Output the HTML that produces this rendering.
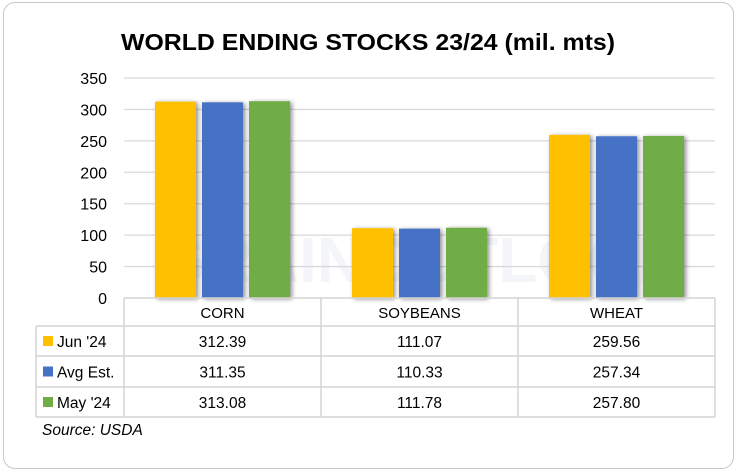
<!DOCTYPE html>
<html><head><meta charset="utf-8"><style>
body{margin:0;background:#fff;width:739px;height:473px;overflow:hidden;font-family:"Liberation Sans",Calibri,sans-serif}
#frame{position:absolute;left:3px;top:2px;width:731px;height:467px;border:1.5px solid #c8c8c8;border-radius:12px;box-sizing:border-box}
svg{position:absolute;left:0;top:0}
</style></head><body>
<div id="frame"></div>
<svg id="c" width="739" height="473"></svg>
<script>
const categories=["CORN","SOYBEANS","WHEAT"];
const seriesNames=["Jun '24","Avg Est.","May '24"];
const jun=[312.39,111.07,259.56];
const avg=[311.35,110.33,257.34];
const may=[313.08,111.78,257.80];
const ticks=[0,50,100,150,200,250,300,350];
const labels=[["312.39","111.07","259.56"],["311.35","110.33","257.34"],["313.08","111.78","257.80"]];
const colors=["#ffc000","#4472c4","#70ad47"];
const series=[jun,avg,may];
const NS="http://www.w3.org/2000/svg";
const svg=document.getElementById('c');
const X0=124,X1=715,Y0=298,Y350=78;
const y=v=>Y0-(v/350)*(Y0-Y350);
const cw=(X1-X0)/categories.length;
const x=i=>X0+cw*i;
function mk(t,a,txt){const e=document.createElementNS(NS,t);for(const k in a)e.setAttribute(k,a[k]);if(txt!==undefined)e.textContent=txt;svg.appendChild(e);return e;}
const defs=mk('defs',{});
defs.innerHTML='<filter id="sh" x="-30%" y="-10%" width="160%" height="130%"><feGaussianBlur in="SourceAlpha" stdDeviation="2.5"/><feOffset dx="2" dy="1"/><feComponentTransfer><feFuncA type="linear" slope="0.45"/></feComponentTransfer><feMerge><feMergeNode/><feMergeNode in="SourceGraphic"/></feMerge></filter>';
let t=mk('text',{x:121,y:50,'font-size':23,'font-weight':'bold',fill:'#000',textLength:494,lengthAdjust:'spacingAndGlyphs'},'WORLD ENDING STOCKS 23/24 (mil. mts)');

let wm=mk('text',{x:420,y:282,'text-anchor':'middle','font-size':64,'font-weight':'bold',fill:'#f3f5f9'},'GRAINOUTLOOK');

ticks.forEach(v=>{
  if(v>0){let g=mk('line',{x1:X0,x2:X1,y1:y(v),y2:y(v),stroke:'#d9d9d9','stroke-width':1.3});
  }
  let l=mk('text',{x:107,y:y(v)+6,'text-anchor':'end','font-size':16,fill:'#000'},String(v));
  
});
const bw=41,gap=6;
series.forEach((s,si)=>{
  s.forEach((v,ci)=>{
    const cx=x(ci)+cw/2;
    const bx=cx-(bw*3+gap*2)/2+si*(bw+gap);
    let r=mk('rect',{x:bx,y:y(v),width:bw,height:Y0-y(v),fill:colors[si],filter:'url(#sh)'});
    
    
  });
});
const L=36,rows=[298,326,356,387,417];
const st='#d4d4d4';
mk('line',{x1:X0,x2:X1,y1:rows[0],y2:rows[0],stroke:st,'stroke-width':1.5});
for(let i=1;i<rows.length;i++)mk('line',{x1:L,x2:X1,y1:rows[i],y2:rows[i],stroke:st,'stroke-width':1.5});
mk('line',{x1:L,x2:L,y1:rows[1],y2:rows[4],stroke:st,'stroke-width':1.5});
for(let i=0;i<=3;i++)mk('line',{x1:x(i),x2:x(i),y1:rows[0],y2:rows[4],stroke:st,'stroke-width':1.5});
categories.forEach((c,ci)=>{
  let e=mk('text',{x:x(ci)+cw/2,y:318,'text-anchor':'middle','font-size':15,fill:'#000'},c);
  
});
seriesNames.forEach((n,si)=>{
  const cy=(rows[si+1]+rows[si+2])/2;
  let k=mk('rect',{x:43,y:cy-5,width:10,height:10,fill:colors[si]});
  
  let e=mk('text',{x:57,y:cy+6,'font-size':15.5,fill:'#000'},n);
  
  labels[si].forEach((lv,ci)=>{
    let d=mk('text',{x:x(ci)+cw/2,y:cy+6,'text-anchor':'middle','font-size':15.5,fill:'#000'},lv);
    
  });
});
let s=mk('text',{x:42,y:435,'font-size':15.5,'font-style':'italic',fill:'#000'},'Source: USDA');

</script>
</body></html>
